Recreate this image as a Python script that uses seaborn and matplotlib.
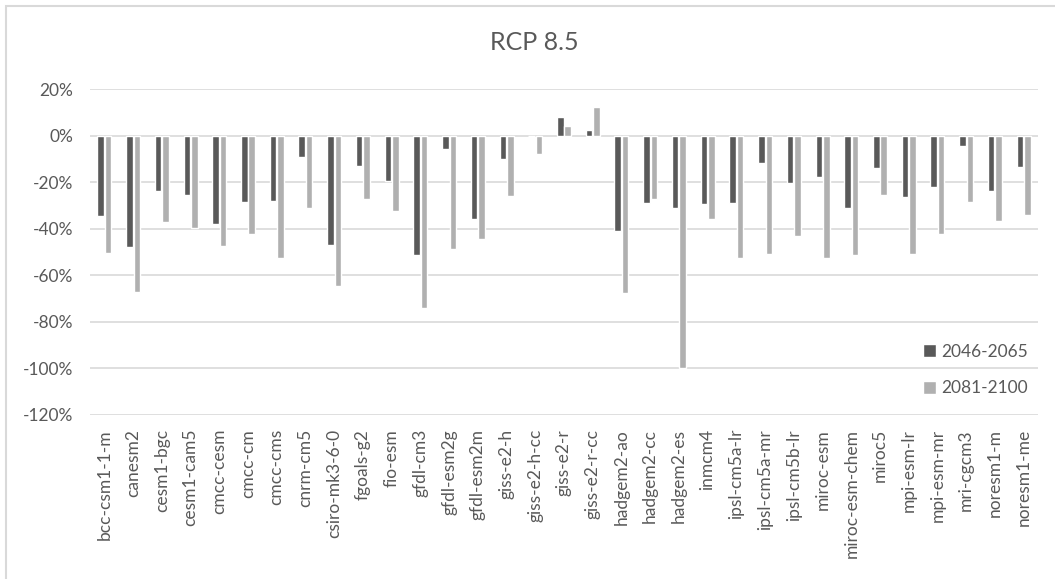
import numpy as np
import pandas as pd
import matplotlib
matplotlib.use("Agg")
import matplotlib.pyplot as plt
import seaborn as sns
from matplotlib.patches import Patch, Rectangle

# models and % change for the two future periods (RCP 8.5)
models = ["bcc-csm1-1-m", "canesm2", "cesm1-bgc", "cesm1-cam5", "cmcc-cesm", "cmcc-cm",
          "cmcc-cms", "cnrm-cm5", "csiro-mk3-6-0", "fgoals-g2", "fio-esm", "gfdl-cm3",
          "gfdl-esm2g", "gfdl-esm2m", "giss-e2-h", "giss-e2-h-cc", "giss-e2-r", "giss-e2-r-cc",
          "hadgem2-ao", "hadgem2-cc", "hadgem2-es", "inmcm4", "ipsl-cm5a-lr", "ipsl-cm5a-mr",
          "ipsl-cm5b-lr", "miroc-esm", "miroc-esm-chem", "miroc5", "mpi-esm-lr", "mpi-esm-mr",
          "mri-cgcm3", "noresm1-m", "noresm1-me"]
mid_century = [-34.5, -48, -23.6, -25.4, -37.9, -28.7, -28.1, -9.4, -46.9, -13, -19.4, -51.4,
               -5.7, -35.9, -9.9, 0, 8, 2.4, -41, -29, -30.9, -29.4, -29, -11.6, -20.3, -17.6,
               -31.3, -14, -26.3, -22.1, -4.3, -23.6, -13.4]
end_century = [-50.4, -67, -37.3, -39.6, -47.3, -42.3, -52.4, -30.9, -64.7, -27.1, -32.3, -74,
               -48.7, -44.6, -25.9, -8, 3.9, 12.1, -67.4, -27.1, -100, -35.9, -52.4, -50.9,
               -43.1, -52.4, -51.4, -25.4, -51, -42.3, -28.6, -36.9, -34]
periods = ["2046-2065", "2081-2100"]
yticks = [20, 0, -20, -40, -60, -80, -100, -120]

df = pd.DataFrame({
    "model": models * 2,
    "change": mid_century + end_century,
    "period": [periods[0]] * len(models) + [periods[1]] * len(models),
})

dark, light, txt, grid = "#595959", "#b0b0b0", "#595959", "#d9d9d9"

sns.set_style("white")
plt.rcParams["font.family"] = ["Lato", "DejaVu Sans"]

fig = plt.figure(figsize=(10.55, 5.79), dpi=100)
ax = fig.add_axes([90 / 1055, 1 - 415 / 579, (1038 - 90) / 1055, (415 - 89) / 579])

sns.barplot(data=df, x="model", y="change", hue="period", order=models, hue_order=periods,
            palette=[dark, light], saturation=1, width=0.52, gap=0.12, legend=False, ax=ax)

ax.set_ylim(-120, 20)
ax.set_xlim(-0.5, len(models) - 0.5)
ax.set_yticks(yticks)
ax.set_yticklabels([f"{t}%" for t in yticks])
ax.yaxis.grid(True, color=grid, linewidth=1.2)
ax.set_axisbelow(True)
for s in ax.spines.values():
    s.set_visible(False)
ax.tick_params(axis="both", length=0, colors=txt, labelsize=12.5)
ax.tick_params(axis="y", pad=12)
ax.tick_params(axis="x", pad=10)
plt.setp(ax.get_xticklabels(), rotation=90)
ax.set_xlabel("")
ax.set_ylabel("")

fig.text(0.506, 1 - 43 / 579, "RCP 8.5", ha="center", va="center", fontsize=18, color=txt)

handles = [Patch(facecolor=dark, label=periods[0]), Patch(facecolor=light, label=periods[1])]
fig.legend(handles=handles, loc="center left", bbox_to_anchor=(907 / 1055, 1 - 370 / 579),
           frameon=False, fontsize=12.5, labelcolor=txt, handlelength=0.75, handleheight=0.75,
           handletextpad=0.3, labelspacing=1.2)

# thin chart-area border (left and top edges visible)
fig.patches.append(Rectangle((6 / 1055, -0.1), 1.2, 1 - 6 / 579 + 0.1, transform=fig.transFigure,
                             fill=False, edgecolor=grid, linewidth=1.5))

fig.savefig("out.png", dpi=100)
